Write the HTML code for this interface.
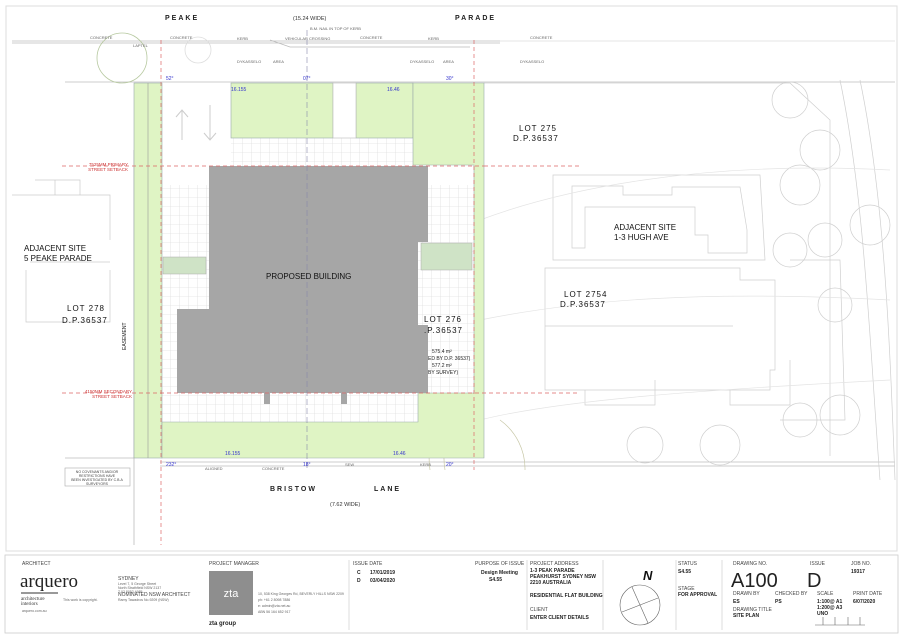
<!DOCTYPE html>
<html><head><meta charset="utf-8"><style>
html,body{margin:0;padding:0;background:#fff;width:903px;height:637px;overflow:hidden}
svg{display:block;font-family:"Liberation Sans",sans-serif}
</style></head><body>
<svg width="903" height="637" viewBox="0 0 903 637" xmlns="http://www.w3.org/2000/svg">
<rect x="6" y="6" width="891" height="545" fill="none" stroke="#ddd" stroke-width="1"/>
<g stroke="#bbb" stroke-width="0.8" fill="none">
<line x1="12" y1="41" x2="500" y2="41"/><line x1="12" y1="43" x2="500" y2="43"/>
<line x1="500" y1="41" x2="895" y2="41" stroke="#ddd"/>
<line x1="65" y1="82" x2="895" y2="82"/>
<line x1="160" y1="462" x2="895" y2="462"/><line x1="160" y1="466" x2="895" y2="466"/>
<line x1="65" y1="458" x2="134" y2="458"/>
<line x1="134" y1="150" x2="134" y2="545"/>
<path d="M270 40 L290 47 L470 47"/>
<circle cx="122" cy="58" r="25" stroke="#b7c9a0"/>
<circle cx="198" cy="50" r="13" stroke="#ddd"/>
</g>
<g stroke="#ccc" stroke-width="0.7" fill="none">
<path d="M12 195 H110 V240 M26 270 V322 H110 V270 M30 262 H110"/>
<path d="M35 180 H80 V195 M55 180 L55 195"/>
</g>
<g stroke="#cfcfcf" stroke-width="0.7" fill="none">
<path d="M484 83 H790 L830 120 V456"/>
<path d="M553 175 H760 L765 260 H553 Z"/>
<path d="M572 186 H623 V195 H672 V187 H740 L747 230 V253 H708 V235 H695 V207 H585 V248 L572 248 Z"/>
<path d="M545 268 H740 V280 H775 V370 H770 V390 H545 Z"/>
<path d="M545 326 H733"/>
<path d="M585 390 V405 H655 V380 M730 390 V405 H790 V360"/>
<path d="M790 260 H840 L845 420 H780"/>
<circle cx="790" cy="100" r="18"/><circle cx="820" cy="150" r="20"/><circle cx="800" cy="185" r="20"/>
<circle cx="790" cy="250" r="17"/><circle cx="825" cy="240" r="17"/><circle cx="835" cy="305" r="17"/>
<circle cx="870" cy="225" r="20"/><circle cx="840" cy="415" r="20"/><circle cx="800" cy="420" r="17"/>
<circle cx="720" cy="445" r="20"/><circle cx="645" cy="445" r="18"/>
<path d="M840 80 C865 200 870 350 880 480 M860 80 C885 200 890 350 895 480"/>
<path d="M480 220 C560 190 700 160 890 170 M480 320 C580 300 700 290 890 300 M480 420 C560 400 700 390 890 380" stroke="#e4e4e4"/>
</g>
<g stroke="#c8c8a8" stroke-width="0.7" fill="none">
<path d="M484 378 A85 85 0 0 0 430 470 M484 395 A70 70 0 0 0 445 470"/>
<path d="M500 420 A60 60 0 0 1 525 470"/>
</g>
<defs><pattern id="g" width="9" height="9" patternUnits="userSpaceOnUse"><path d="M9 0V9H0" fill="none" stroke="#d6d6d6" stroke-width="0.6"/></pattern></defs>
<rect x="162" y="138" width="312" height="284" fill="#fff"/>
<rect x="162" y="185" width="312" height="237" fill="url(#g)"/>
<rect x="231" y="138" width="182" height="30" fill="url(#g)"/>
<g fill="#dff4c4" stroke="#9aa" stroke-width="0.6">
<rect x="134" y="83" width="28" height="375"/>
<rect x="231" y="83" width="102" height="55"/>
<rect x="356" y="83" width="57" height="55"/>
<path d="M413 83 H484 V458 H162 V422 H418 V393 H474 V165 H413 Z"/>
</g>
<line x1="148" y1="83" x2="148" y2="458" stroke="#999" stroke-width="0.6"/>
<rect x="333" y="83" width="23" height="55" fill="#fff" stroke="#bbb" stroke-width="0.6"/>
<rect x="163" y="257" width="43" height="17" fill="#cfe3c6" stroke="#aaa" stroke-width="0.5"/>
<rect x="421" y="243" width="51" height="27" fill="#cfe3c6" stroke="#aaa" stroke-width="0.5"/>
<g stroke="#ccc" fill="none"><path d="M182 140 V110 M176 117 L182 110 L188 117 M210 105 V140 M204 133 L210 140 L216 133"/></g>
<path d="M209 166 H428 V242 H418 V325 H428 V393 H177 V309 H209 Z" fill="#a6a6a6"/>
<rect x="264" y="393" width="6" height="11" fill="#a6a6a6"/><rect x="341" y="393" width="6" height="11" fill="#a6a6a6"/>
<g stroke="#d66" stroke-width="0.7" stroke-dasharray="4,3" fill="none">
<line x1="62" y1="166" x2="484" y2="166"/><line x1="484" y1="166" x2="580" y2="166"/>
<line x1="62" y1="393" x2="580" y2="393"/>
<line x1="161" y1="40" x2="161" y2="545"/><line x1="474" y1="40" x2="474" y2="470"/>
</g>
<line x1="307" y1="30" x2="307" y2="470" stroke="#88a" stroke-width="0.6" stroke-dasharray="6,3"/>
<g font-size="7" font-weight="bold" fill="#222" letter-spacing="2">
<text x="165" y="20">PEAKE</text><text x="455" y="20">PARADE</text>
<text x="270" y="491">BRISTOW</text><text x="374" y="491">LANE</text>
</g>
<text x="293" y="20" font-size="5.5" fill="#333">(15.24  WIDE)</text>
<text x="330" y="506" font-size="5.5" fill="#333">(7.62  WIDE)</text>
<g font-size="4" fill="#666">
<text x="90" y="39">CONCRETE</text><text x="170" y="39">CONCRETE</text><text x="237" y="40">KERB</text>
<text x="285" y="40">VEHICULAR CROSSING</text><text x="360" y="39">CONCRETE</text><text x="428" y="40">KERB</text>
<text x="530" y="39">CONCRETE</text><text x="237" y="63">DYKASSELO</text><text x="273" y="63">AREA</text>
<text x="410" y="63">DYKASSELO</text><text x="443" y="63">AREA</text><text x="520" y="63">DYKASSELO</text>
<text x="133" y="47">LAPTEL</text><text x="310" y="30">B.M. NAIL IN TOP OF KERB</text>
<text x="205" y="470">ALIGNED</text><text x="262" y="470">CONCRETE</text><text x="345" y="466">SEW</text><text x="420" y="466">KERB</text>
</g>
<g font-size="5" fill="#33c">
<text x="166" y="80">52°</text><text x="303" y="80">07°</text><text x="446" y="80">30°</text>
<text x="231" y="91">16.155</text><text x="387" y="91">16.46</text>
<text x="225" y="455">16.155</text><text x="393" y="455">16.46</text>
<text x="166" y="466">232°</text><text x="303" y="466">18°</text><text x="446" y="466">20°</text>
</g>
<g font-size="4.5" fill="#c33" text-anchor="end">
<text x="128" y="166">7525MM PRIMARY</text><text x="128" y="171">STREET SETBACK</text>
<text x="132" y="393">4150MM SECONDARY</text><text x="132" y="398">STREET SETBACK</text>
</g>
<rect x="65" y="468" width="65" height="18" fill="#fff" stroke="#aaa" stroke-width="0.6"/>
<g font-size="3.5" fill="#444" text-anchor="middle"><text x="97" y="473">NO COVENANTS AND/OR</text><text x="97" y="477">RESTRICTIONS HAVE</text><text x="97" y="481">BEEN INVESTIGATED BY C.B.A</text><text x="97" y="485">SURVEYORS</text></g>
<g font-size="8" fill="#111">
<text x="266" y="279">PROPOSED BUILDING</text>
<text x="24" y="251">ADJACENT SITE</text><text x="24" y="261">5 PEAKE PARADE</text>
<text x="67" y="311" letter-spacing="1">LOT 278</text><text x="62" y="323" letter-spacing="1">D.P.36537</text>
<text x="519" y="131" letter-spacing="1">LOT 275</text><text x="513" y="141" letter-spacing="1">D.P.36537</text>
<text x="614" y="230">ADJACENT SITE</text><text x="614" y="240">1-3 HUGH AVE</text>
<text x="564" y="297" letter-spacing="1">LOT 2754</text><text x="560" y="307" letter-spacing="1">D.P.36537</text>
<text x="424" y="322" letter-spacing="1">LOT 276</text><text x="424" y="333" letter-spacing="1">.P.36537</text>
</g>
<g font-size="5" fill="#222"><text x="432" y="353">575.4 m²</text><text x="428" y="360">ED BY D.P. 36537)</text><text x="432" y="367">577.2 m²</text><text x="428" y="374">BY SURVEY)</text></g>
<text x="126" y="350" font-size="5" fill="#222" transform="rotate(-90 126 350)">EASEMENT</text>
<rect x="5" y="555" width="893" height="78" fill="none" stroke="#ccc" stroke-width="0.8"/>
<g stroke="#ddd"><line x1="349" y1="560" x2="349" y2="630"/><line x1="527" y1="560" x2="527" y2="630"/><line x1="603" y1="560" x2="603" y2="630"/><line x1="676" y1="560" x2="676" y2="630"/><line x1="722" y1="560" x2="722" y2="630"/></g>
<g font-size="5" fill="#444">
<text x="22" y="565">ARCHITECT</text><text x="209" y="565">PROJECT MANAGER</text>
<text x="353" y="565">ISSUE  DATE</text><text x="475" y="565">PURPOSE OF ISSUE</text><text x="530" y="565">PROJECT ADDRESS</text>
<text x="678" y="565">STATUS</text><text x="733" y="565">DRAWING NO.</text><text x="810" y="565">ISSUE</text><text x="851" y="565">JOB NO.</text>
<text x="678" y="590">STAGE</text><text x="733" y="595">DRAWN BY</text><text x="775" y="595">CHECKED BY</text><text x="817" y="595">SCALE</text><text x="853" y="595">PRINT DATE</text>
<text x="733" y="611">DRAWING TITLE</text><text x="530" y="611">CLIENT</text>
<text x="118" y="580">SYDNEY</text><text x="118" y="596">NOMINATED NSW ARCHITECT</text>
</g>
<g font-size="3.5" fill="#666"><text x="118" y="585">Level 7, 5 George Street</text><text x="118" y="589">North Strathfield NSW 2137</text><text x="118" y="593">T 02 8052 4985</text><text x="118" y="601">Ramy Tawadros No.9209 (NSW)</text>
<text x="22" y="612">arquero.com.au</text><text x="63" y="601">This work is copyright.</text><text x="258" y="595">10, 538 King Georges Rd, BEVERLY HILLS NSW 2209</text><text x="258" y="601">ph: +61 2 8098 7886</text><text x="258" y="607">e: admin@zta.net.au</text><text x="258" y="613">ABN 56 164 652 917</text></g>
<text x="20" y="587" font-size="19" font-family="Liberation Serif,serif" fill="#222">arquero</text>
<line x1="21" y1="593" x2="58" y2="593" stroke="#333"/>
<text x="21" y="600" font-size="5" font-family="Liberation Serif,serif" fill="#333">architecture</text><text x="21" y="605" font-size="5" font-family="Liberation Serif,serif" fill="#333">interiors</text>
<rect x="209" y="571" width="44" height="44" fill="#8e8e8e"/>
<text x="231" y="597" font-size="11" fill="#fff" text-anchor="middle">zta</text>
<text x="209" y="625" font-size="6" font-weight="bold" fill="#222">zta group</text>
<g font-size="5" font-weight="bold" fill="#222">
<text x="357" y="574">C</text><text x="370" y="574">17/01/2019</text><text x="357" y="582">D</text><text x="370" y="582">03/04/2020</text>
<text x="481" y="574">Design Meeting</text><text x="489" y="581">S4.55</text>
<text x="530" y="572">1-3 PEAK PARADE</text><text x="530" y="578">PEAKHURST SYDNEY NSW</text><text x="530" y="584">2210 AUSTRALIA</text>
<text x="530" y="597">RESIDENTIAL FLAT BUILDING</text><text x="530" y="619">ENTER CLIENT DETAILS</text>
<text x="678" y="573">S4.55</text><text x="678" y="596">FOR APPROVAL</text>
<text x="733" y="603">ES</text><text x="775" y="603">PS</text><text x="817" y="603">1:100@ A1</text><text x="817" y="609">1:200@ A3</text><text x="817" y="615">UNO</text><text x="853" y="603">6/07/2020</text>
<text x="733" y="617">SITE PLAN</text><text x="851" y="573">19317</text>
</g>
<text x="731" y="587" font-size="20" fill="#222">A100</text>
<text x="807" y="587" font-size="20" fill="#222">D</text>
<text x="643" y="580" font-size="13" font-weight="bold" font-style="italic" fill="#111">N</text>
<circle cx="640" cy="605" r="20" fill="none" stroke="#666" stroke-width="0.6"/>
<g stroke="#666" stroke-width="0.6"><line x1="622" y1="612" x2="658" y2="598"/><line x1="632" y1="587" x2="648" y2="623"/></g>
<path d="M815 625 H823 V617 M823 625 H835 V617 M835 625 H848 V617 M848 625 H860 V617 M860 625 H865" fill="none" stroke="#666" stroke-width="0.6"/>
</svg>
</body></html>
